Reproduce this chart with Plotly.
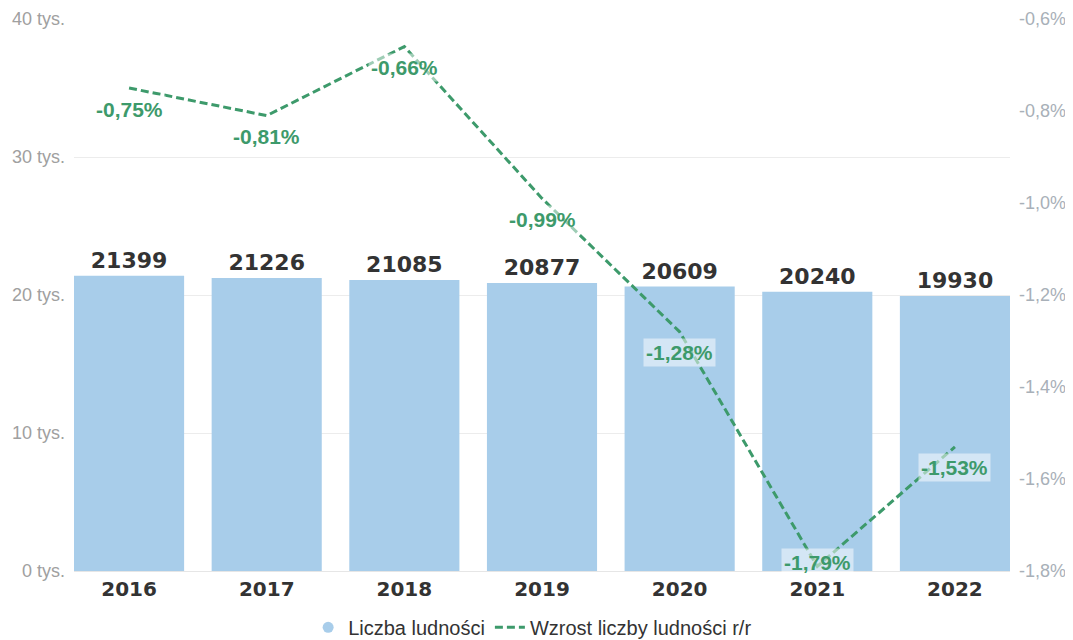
import plotly.graph_objects as go

years = ["2016", "2017", "2018", "2019", "2020", "2021", "2022"]
population = [21399, 21226, 21085, 20877, 20609, 20240, 19930]
growth = [-0.75, -0.81, -0.66, -0.99, -1.28, -1.79, -1.53]
growth_labels = ["-0,75%", "-0,81%", "-0,66%", "-0,99%", "-1,28%", "-1,79%", "-1,53%"]
left_ticks = [0, 10000, 20000, 30000, 40000]
left_tick_text = ["0 tys.", "10 tys.", "20 tys.", "30 tys.", "40 tys."]
right_ticks = [-1.8, -1.6, -1.4, -1.2, -1.0, -0.8, -0.6]
right_tick_text = ["-1,8%", "-1,6%", "-1,4%", "-1,2%", "-1,0%", "-0,8%", "-0,6%"]

BAR = "#a8cdea"
GREEN = "#3d9a6b"
FONT = "Liberation Sans, Arial, sans-serif"
BOLD_FONT = "DejaVu Sans, Verdana, sans-serif"

fig = go.Figure()
fig.add_trace(go.Bar(
    x=years, y=population, name="Liczba ludności", showlegend=False,
    legendgroup="pop",
    marker=dict(color=BAR, line=dict(width=0)),
    width=0.8,
    text=["<b>" + str(v) + "</b>" for v in population], textposition="outside",
    textfont=dict(family=BOLD_FONT, size=22, color="#333333"),
    cliponaxis=False,
))
# legend entry with round marker for the bar series
fig.add_trace(go.Scatter(
    x=[None], y=[None], name="Liczba ludności", legendgroup="pop",
    mode="markers", marker=dict(color=BAR, symbol="circle", size=11),
))
fig.add_trace(go.Scatter(
    x=years, y=growth, name="Wzrost liczby ludności r/r", yaxis="y2",
    mode="lines", line=dict(color=GREEN, width=3, dash="8px,4px"),
))

for i, (g, lab) in enumerate(zip(growth, growth_labels)):
    shift = -21
    if g < -1.7:
        shift = 4
    fig.add_annotation(
        x=i, y=g, xref="x", yref="y2", text="<b>" + lab + "</b>", showarrow=False,
        yshift=shift, font=dict(family=FONT, size=21, color=GREEN),
        bgcolor="rgba(255,255,255,0.5)", borderpad=2,
    )

fig.update_layout(
    width=1065, height=632,
    margin=dict(l=66, r=63, t=11, b=69),
    paper_bgcolor="white", plot_bgcolor="white",
    separators=", ",
    font=dict(family=FONT, color="#333333"),
    bargap=0.2,
    showlegend=True,
    legend=dict(orientation="h", x=0.49, xanchor="center",
                yref="container", y=0.02, yanchor="middle",
                bgcolor="rgba(0,0,0,0)",
                font=dict(size=20, color="#333333"), tracegroupgap=0),
    xaxis=dict(type="category", range=[-0.4, 6.4], showgrid=False, showline=True,
               linecolor="#e6e6e6", automargin=False,
               tickfont=dict(size=20, color="#333333", family=BOLD_FONT), ticks="",
               tickprefix="<b>", ticksuffix="</b>"),
    yaxis=dict(range=[0, 40000], tickvals=left_ticks, ticktext=left_tick_text,
               showgrid=True, gridcolor="#ececec", zeroline=False, automargin=False,
               tickfont=dict(size=18, color="#a0a0a0"), ticks="", ticklabelstandoff=8),
    yaxis2=dict(range=[-1.8, -0.6], overlaying="y", side="right",
                tickvals=right_ticks, ticktext=right_tick_text, automargin=False,
                showgrid=False, zeroline=False,
                tickfont=dict(size=18, color="#a8b0b8"), ticks="", ticklabelstandoff=8),
)

fig.write_html("out.html")
